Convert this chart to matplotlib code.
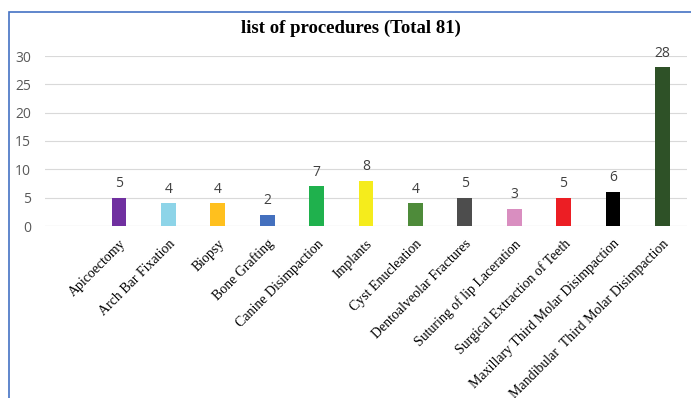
import matplotlib.pyplot as plt
from matplotlib.patches import Rectangle
import numpy as np

procedures = ["Apicoectomy", "Arch Bar Fixation", "Biopsy", "Bone Grafting",
              "Canine Disimpaction", "Implants", "Cyst Enucleation",
              "Dentoalveolar Fractures", "Suturing of lip Laceration",
              "Surgical Extraction of Teeth", "Maxillary Third Molar Disimpaction",
              "Mandibular  Third Molar Disimpaction"]
counts = [5, 4, 4, 2, 7, 8, 4, 5, 3, 5, 6, 28]
colors = ["#7030A0", "#8DD4E8", "#FFC01E", "#4470BE", "#1FB14D", "#F5EC1C",
          "#4E8B3A", "#4D4D4D", "#D98EC0", "#EC1E24", "#000000", "#2E5127"]

fig = plt.figure(figsize=(6.91, 3.98), dpi=100)
ax = fig.add_axes([45/691, 1-226/398, 642/691, 170/398])

# first slot is left empty, like the original sheet
x = np.arange(1, len(counts) + 1)
bars = ax.bar(x, counts, width=0.3, color=colors, zorder=3)
for xi, v in zip(x, counts):
    ax.text(xi, v + 1.2, str(v), ha="center", va="bottom", fontsize=10,
            color="#404040", family="Open Sans", clip_on=False)

ax.set_xlim(-0.5, 12.5)
ax.set_ylim(0, 30)
ax.set_yticks(range(0, 31, 5))
ax.yaxis.grid(True, color="#D9D9D9", linewidth=0.8, zorder=0)
for s in ax.spines.values():
    s.set_visible(False)
ax.axhline(0, color="#D9D9D9", linewidth=0.8, zorder=1)
ax.tick_params(axis="y", length=0, labelsize=10, labelcolor="#595959", pad=10)
for lab in ax.get_yticklabels():
    lab.set_family("Open Sans")
ax.set_xticks(x)
ax.set_xticklabels(procedures, rotation=45, ha="right", rotation_mode="anchor",
                   fontsize=10, family="Liberation Serif")
ax.tick_params(axis="x", length=0, pad=8)

fig.text(351/691, 1-28/398, "list of procedures (Total 81)", ha="center", va="center",
         fontsize=13.5, fontweight="bold", family="Liberation Serif")

fig.patches.append(Rectangle((9/691, -0.1), 1.2, 1.1 - 12/398, transform=fig.transFigure,
                             fill=False, edgecolor="#4472C4", linewidth=1.2))

fig.savefig("out.png", dpi=100)
